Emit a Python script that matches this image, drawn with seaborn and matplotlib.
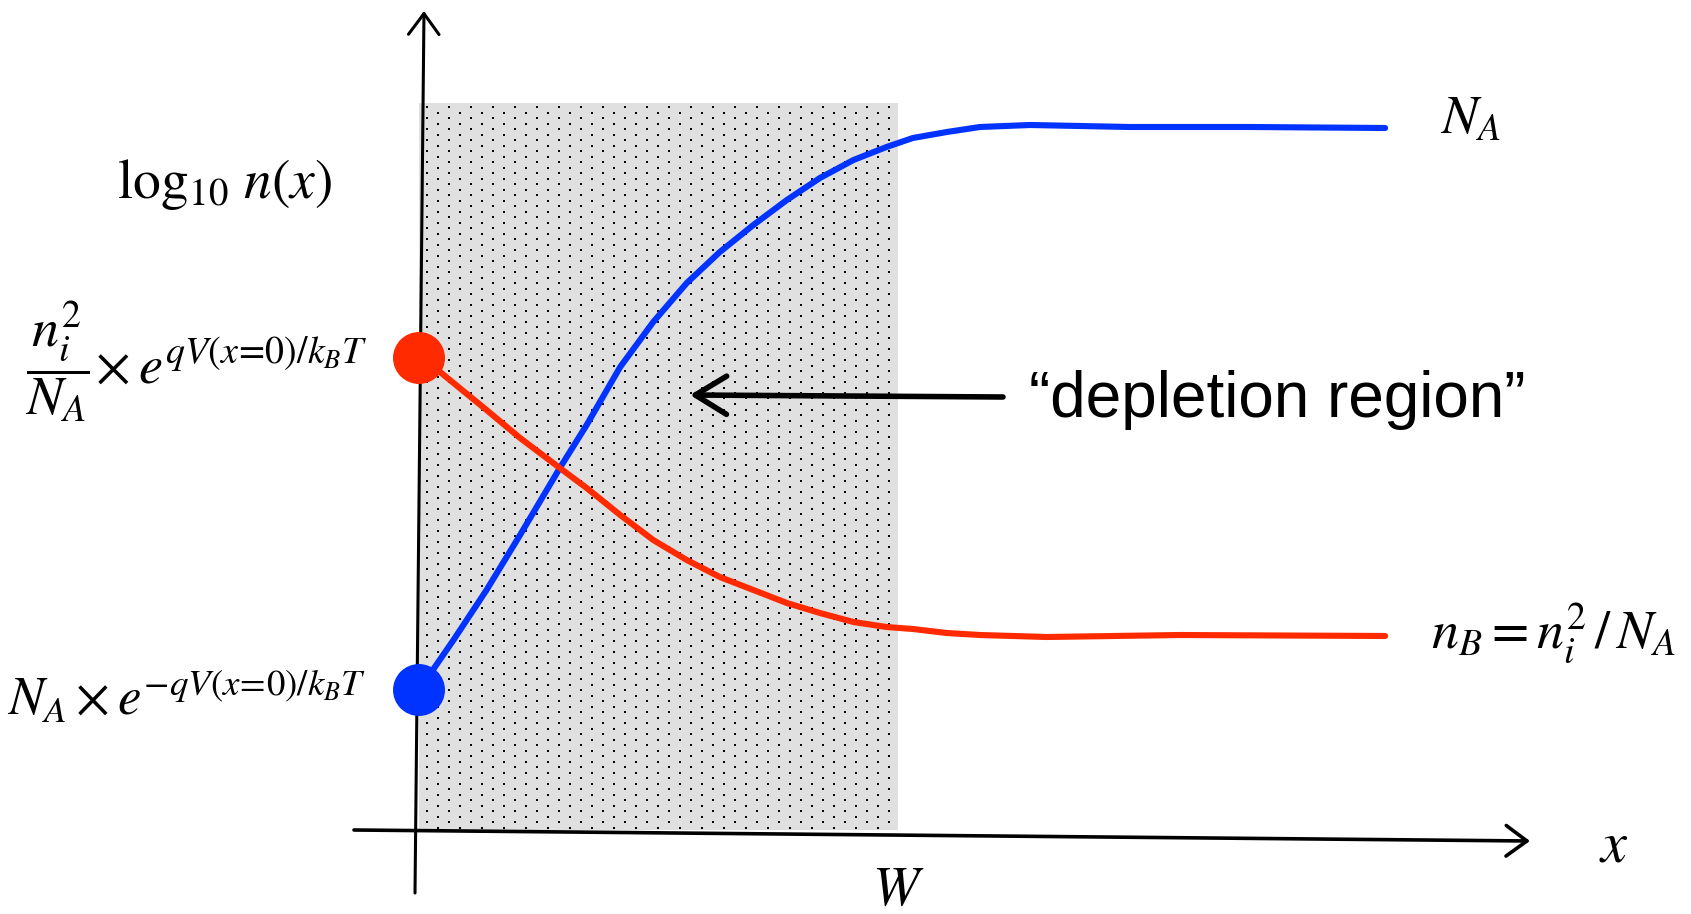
import numpy as np
import pandas as pd
import matplotlib
matplotlib.use("Agg")
import matplotlib.pyplot as plt
import seaborn as sns
from matplotlib.patches import Rectangle, FancyArrowPatch

sns.set_theme(style="white")
plt.rcParams["font.family"] = ["Liberation Sans", "DejaVu Sans"]
plt.rcParams["mathtext.fontset"] = "stix"
plt.rcParams["text.color"] = "black"

# Position along the junction, in units of the depletion width W,
# and log10 of the carrier concentration (arbitrary decades above the x axis)
x_majority = [0, 0.072, 0.141, 0.211, 0.294, 0.350, 0.420, 0.489, 0.559, 0.628,
              0.698, 0.768, 0.837, 0.907, 0.976, 1.031, 1.102, 1.171, 1.276,
              1.484, 1.735, 2.017]
log_majority = [1.40, 1.90, 2.40, 2.95, 3.62, 4.05, 4.63, 5.08, 5.47, 5.78,
                6.05, 6.30, 6.52, 6.70, 6.83, 6.92, 6.98, 7.03, 7.05,
                7.03, 7.03, 7.02]

x_minority = [0, 0.044, 0.141, 0.211, 0.294, 0.350, 0.420, 0.489, 0.559, 0.628,
              0.698, 0.768, 0.837, 0.907, 0.976, 1.031, 1.102, 1.171, 1.311,
              1.589, 2.017]
log_minority = [4.72, 4.58, 4.20, 3.92, 3.62, 3.42, 3.15, 2.90, 2.70, 2.53,
                2.40, 2.27, 2.17, 2.08, 2.03, 2.01, 1.97, 1.95, 1.93,
                1.95, 1.94]

# Boundary values at x = 0 (minority, majority)
edge_x = [0, 0]
edge_level = [4.72, 1.40]
edge_kind = ["minority", "majority"]

depletion_width = 1.0
region_top = 7.27

RED = "#ff2a00"
BLUE = "#0033ff"
CURVE_LW = 4.4

# Canvas geometry: one data unit along x is the depletion width
W_PIX, H_PIX = 1691, 914
ORIGIN_X, ORIGIN_Y = 419.0, 830.0
UNIT_X, UNIT_Y = 479.0, 100.0


def px(xp, yp):
    return ((xp - ORIGIN_X) / UNIT_X, (ORIGIN_Y - yp) / UNIT_Y)


fig = plt.figure(figsize=(W_PIX / 100, H_PIX / 100), dpi=100)
ax = fig.add_axes([0, 0, 1, 1])
x0, y0 = px(0, H_PIX)
x1, y1 = px(W_PIX, 0)

# Depletion region: light grey with a staggered dot texture
ax.add_patch(Rectangle((0, 0), depletion_width, region_top,
                       facecolor="#e0e0e0", edgecolor="none", zorder=0))
dots_x, dots_y = [], []
right_px = ORIGIN_X + depletion_width * UNIT_X
top_px = ORIGIN_Y - region_top * UNIT_Y
for i, cx in enumerate(np.arange(427, right_px - 1, 11.0)):
    start = top_px + 4 + (5.5 if i % 2 else 0.0)
    for cy in np.arange(start, ORIGIN_Y - 1, 11.0):
        dx, dy = px(cx, cy)
        dots_x.append(dx)
        dots_y.append(dy)
ax.scatter(dots_x, dots_y, s=4.2, marker="s", color="black", linewidths=0, zorder=1)

# Coordinate axes with open arrow heads
axis_style = "->,head_length=0.75,head_width=0.55"
ax.add_patch(FancyArrowPatch(px(415, 893), px(424, 11), arrowstyle=axis_style,
                             mutation_scale=20, lw=2.2, color="black", zorder=2,
                             shrinkA=0, shrinkB=0))
ax.add_patch(FancyArrowPatch(px(354, 830), px(1530, 841), arrowstyle=axis_style,
                             mutation_scale=20, lw=2.6, color="black", zorder=2,
                             shrinkA=0, shrinkB=0))

# Carrier profiles
df_major = pd.DataFrame({"x": x_majority, "logn": log_majority})
df_minor = pd.DataFrame({"x": x_minority, "logn": log_minority})
n_before = len(ax.lines)
sns.lineplot(data=df_major, x="x", y="logn", ax=ax, color=BLUE,
             estimator=None, zorder=3)
sns.lineplot(data=df_minor, x="x", y="logn", ax=ax, color=RED,
             estimator=None, zorder=3)
for line in ax.lines[n_before:]:
    line.set_linewidth(CURVE_LW)
    line.set_solid_capstyle("round")
    line.set_solid_joinstyle("round")

df_edge = pd.DataFrame({"x": edge_x, "logn": edge_level, "kind": edge_kind})
sns.scatterplot(data=df_edge, x="x", y="logn", hue="kind",
                palette={"minority": RED, "majority": BLUE}, s=1400,
                linewidth=0, ax=ax, zorder=4, legend=False)
ax.set_xlim(x0, x1)
ax.set_ylim(y0, y1)
ax.axis("off")

# Arrow pointing into the depletion region
ax.add_patch(FancyArrowPatch(px(1003, 397), px(690, 395),
                             arrowstyle="->,head_length=0.9,head_width=0.55",
                             mutation_scale=25, lw=4.0, color="black", zorder=5,
                             shrinkA=0, shrinkB=0))

# Labels
ax.text(*px(225, 185), r"$\log_{10}\, n(x)$", fontsize=40, ha="center", va="center")
ax.text(*px(196, 362), r"$\dfrac{n_i^2}{N_A}\!\times e^{qV(x\!=\!0)/k_BT}$",
        fontsize=39, ha="center", va="center")
ax.text(*px(187, 697), r"$N_A \times e^{-qV(x\!=\!0)/k_BT}$",
        fontsize=38, ha="center", va="center")
ax.text(*px(1470, 120), r"$N_A$", fontsize=39, ha="center", va="center")
ax.text(*px(1553, 633), r"$n_B = n_i^2\,/\,N_A$", fontsize=39, ha="center",
        va="center")
ax.text(*px(1277, 400), "\u201cdepletion region\u201d", fontsize=46,
        ha="center", va="center")
ax.text(*px(898, 891), r"$W$", fontsize=40, ha="center", va="center")
ax.text(*px(1614, 847), r"$x$", fontsize=42, ha="center", va="center")

fig.savefig("out.png", dpi=100)
